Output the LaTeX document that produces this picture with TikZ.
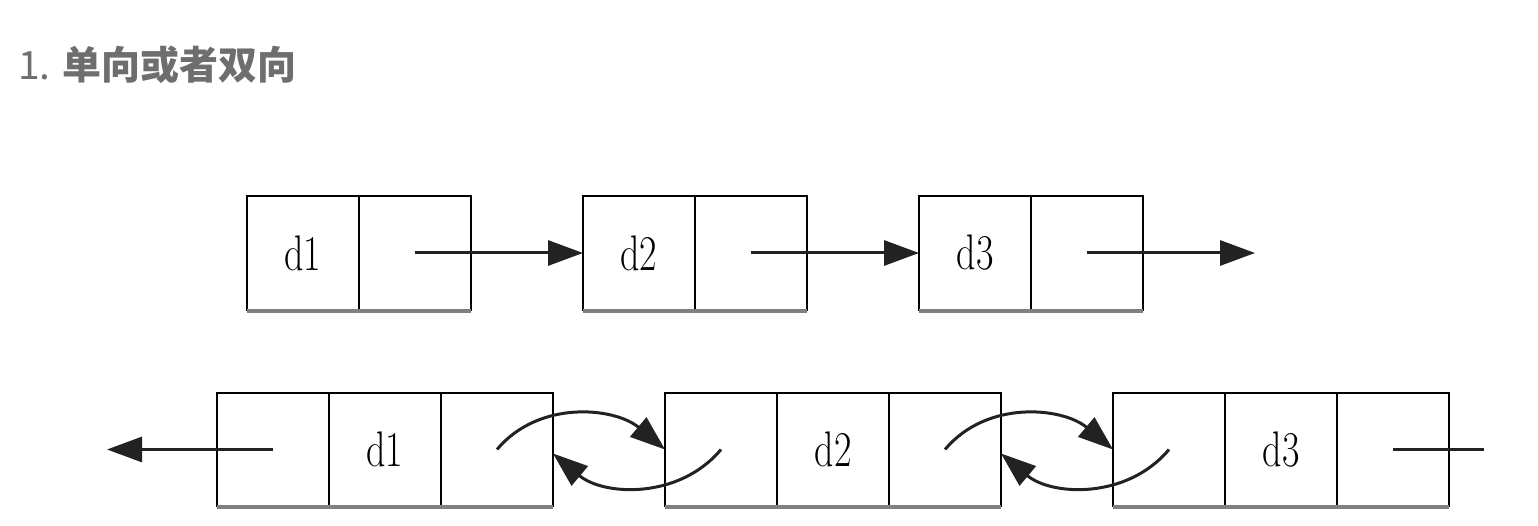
\documentclass[tikz,border=0pt]{standalone}
\usepackage{fontspec}
\usepackage{graphicx}
\usetikzlibrary{arrows.meta}
\newfontfamily\cjk{Noto Sans CJK SC}
\definecolor{titlegray}{HTML}{6E6E6E}
\definecolor{linedark}{HTML}{222222}
\definecolor{shadowgray}{HTML}{808080}
\newcommand\celltext[1]{\scalebox{0.76}[1]{#1}}
\begin{document}
\begin{tikzpicture}[x=1pt,y=1pt,
  cell/.style={draw=black, line width=2.8pt, minimum width=112pt, minimum height=114pt,
    inner sep=0pt, outer sep=0pt, font=\fontsize{50}{50}\selectfont},
  lowcell/.style={cell, minimum height=113pt},
  link/.style={draw=linedark, line width=3pt},
  arr/.style={link, -{Triangle[length=35pt,width=25pt]}},
  shade/.style={draw=shadowgray, line width=4.5pt},
  title/.style={text=titlegray, inner sep=0pt, anchor=base west, font=\cjk\fontsize{39}{42}\selectfont}]
\useasboundingbox (0,0) rectangle (1538,526);
\fill[white] (0,0) rectangle (1538,526);

% title
\node[title] (title) at (18,446) {1. {\bfseries 单向或者双向}};

% top row (singly linked)
\node[cell] (a1d) at (303,273) {\celltext{d1}};
\node[cell] (a1p) at (415,273) {};
\node[cell] (a2d) at (639,273) {\celltext{d2}};
\node[cell] (a2p) at (751,273) {};
\node[cell] (a3d) at (975,273) {\celltext{d3}};
\node[cell] (a3p) at (1087,273) {};
\coordinate (aend) at (1255,273);
\foreach \n in {1,2,3}{
  \draw[shade] ([yshift=-1pt]a\n d.south west) -- ([yshift=-1pt]a\n p.south east);
}
\draw[arr] (a1p.center) -- (a2d.west);
\draw[arr] (a2p.center) -- (a3d.west);
\draw[arr] (a3p.center) -- (aend);

% bottom row (doubly linked)
\node[lowcell] (b1l) at (273,76.5) {};
\node[lowcell] (b1d) at (385,76.5) {\celltext{d1}};
\node[lowcell] (b1r) at (497,76.5) {};
\node[lowcell] (b2l) at (721,76.5) {};
\node[lowcell] (b2d) at (833,76.5) {\celltext{d2}};
\node[lowcell] (b2r) at (945,76.5) {};
\node[lowcell] (b3l) at (1169,76.5) {};
\node[lowcell] (b3d) at (1281,76.5) {\celltext{d3}};
\node[lowcell] (b3r) at (1393,76.5) {};
\foreach \n in {1,2,3}{
  \draw[shade] ([yshift=-1pt]b\n l.south west) -- ([yshift=-1pt]b\n r.south east);
}
\coordinate (bstart) at (107,76.5);
\coordinate (bend) at (1484,76.5);
\draw[arr] (b1l.center) -- (bstart);
\draw[link] (b3r.center) -- (bend);

\draw[arr] (b1r.center) to[out=50,in=140] (b2l.west);
\draw[arr] (b2l.center) to[out=-130,in=-40] ([yshift=-4pt]b1r.east);
\draw[arr] (b2r.center) to[out=50,in=140] (b3l.west);
\draw[arr] (b3l.center) to[out=-130,in=-40] ([yshift=-4pt]b2r.east);
\end{tikzpicture}
\end{document}
